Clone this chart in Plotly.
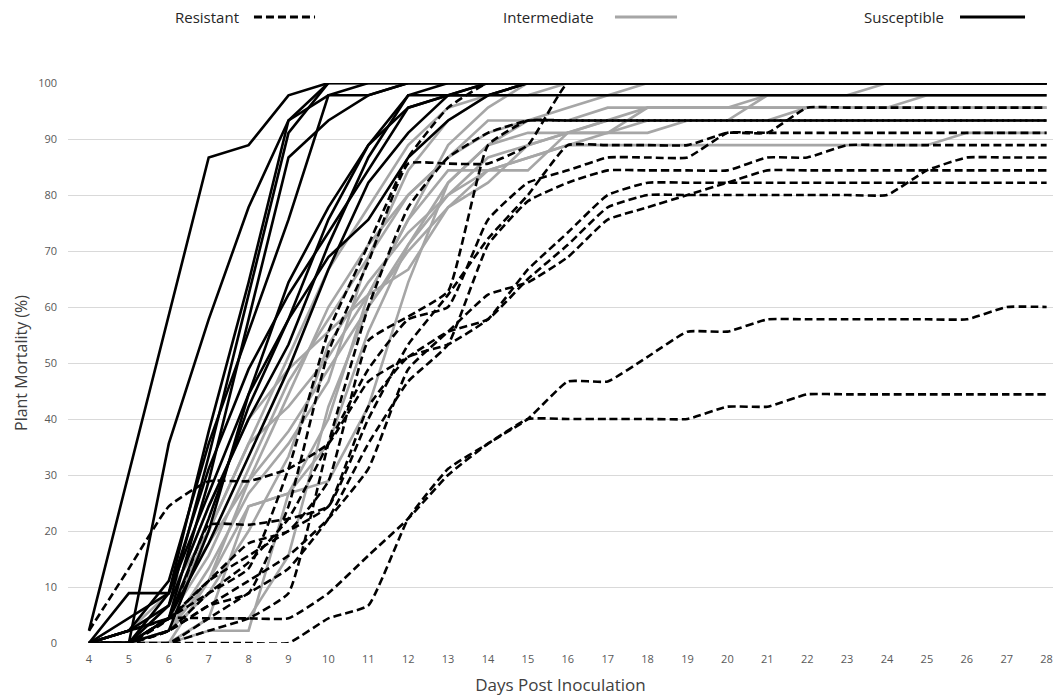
import plotly.graph_objects as go

days = list(range(4, 29))

# Susceptible (solid black)
S1 = [2.2, 30.4, 58.5, 86.7, 88.9, 97.8, 100, 100, 100, 100, 100, 100, 100, 100, 100, 100, 100, 100, 100, 100, 100, 100, 100, 100, 100]
S2 = [0, 0, 35.6, 57.8, 77.8, 93.3, 100, 100, 100, 100, 100, 100, 100, 100, 100, 100, 100, 100, 100, 100, 100, 100, 100, 100, 100]
S3 = [0, 8.9, 8.9, 37.8, 64.4, 93.3, 97.8, 97.8, 100, 100, 100, 100, 100, 100, 100, 100, 100, 100, 100, 100, 100, 100, 100, 100, 100]
S4 = [0, 2.2, 6.7, 33.3, 62.2, 91.1, 100, 100, 100, 100, 100, 100, 100, 100, 100, 100, 100, 100, 100, 100, 100, 100, 100, 100, 100]
S5 = [0, 0, 4.4, 28.9, 57.8, 86.7, 93.3, 97.8, 100, 100, 100, 100, 100, 100, 100, 100, 100, 100, 100, 100, 100, 100, 100, 100, 100]
S6 = [0, 0, 2.2, 20.0, 44.4, 64.4, 77.8, 88.9, 97.8, 100, 100, 100, 100, 100, 100, 100, 100, 100, 100, 100, 100, 100, 100, 100, 100]
S7 = [0, 4.4, 8.9, 26.7, 44.4, 57.8, 68.9, 75.6, 86.7, 93.3, 97.8, 100, 100, 100, 100, 100, 100, 100, 100, 100, 100, 100, 100, 100, 100]
S8 = [0, 0, 6.7, 24.4, 40.0, 53.3, 71.1, 86.7, 97.8, 97.8, 97.8, 97.8, 97.8, 97.8, 97.8, 97.8, 97.8, 97.8, 97.8, 97.8, 97.8, 97.8, 97.8, 97.8, 97.8]
S9 = [0, 2.2, 4.4, 22.2, 42.2, 57.8, 75.6, 88.9, 95.6, 97.8, 100, 100, 100, 100, 100, 100, 100, 100, 100, 100, 100, 100, 100, 100, 100]
S10 = [0, 0, 8.9, 31.1, 48.9, 62.2, 73.3, 84.4, 95.6, 97.8, 97.8, 100, 100, 100, 100, 100, 100, 100, 100, 100, 100, 100, 100, 100, 100]
S11 = [0, 2.2, 11.1, 35.6, 55.6, 75.6, 97.8, 100, 100, 100, 100, 100, 100, 100, 100, 100, 100, 100, 100, 100, 100, 100, 100, 100, 100]
S12 = [0, 0, 4.4, 17.8, 33.3, 48.9, 66.7, 82.2, 91.1, 97.8, 100, 100, 100, 100, 100, 100, 100, 100, 100, 100, 100, 100, 100, 100, 100]
susceptible = [S1, S2, S3, S4, S5, S6, S7, S8, S9, S10, S11, S12]

# Intermediate (solid grey)
I1 = [0, 0, 4.4, 15.6, 31.1, 46.7, 57.8, 68.9, 84.4, 93.3, 97.8, 100, 100, 100, 100, 100, 100, 100, 100, 100, 100, 100, 100, 100, 100]
I2 = [0, 2.2, 8.9, 20.0, 35.6, 51.1, 66.7, 77.8, 88.9, 95.6, 97.8, 97.8, 100, 100, 100, 100, 100, 100, 100, 100, 100, 100, 100, 100, 100]
I3 = [0, 0, 6.7, 17.8, 28.9, 44.4, 60.0, 71.1, 80.0, 86.7, 93.3, 93.3, 93.3, 93.3, 93.3, 93.3, 93.3, 97.8, 97.8, 97.8, 100, 100, 100, 100, 100]
I4 = [0, 0, 2.2, 11.1, 24.4, 26.7, 40.0, 62.2, 75.6, 84.4, 84.4, 84.4, 91.1, 91.1, 95.6, 95.6, 95.6, 95.6, 95.6, 95.6, 95.6, 97.8, 97.8, 97.8, 97.8]
I5 = [0, 0, 0, 4.4, 24.4, 26.7, 35.6, 55.6, 71.1, 80.0, 86.7, 88.9, 91.1, 93.3, 95.6, 95.6, 95.6, 95.6, 95.6, 95.6, 95.6, 95.6, 95.6, 95.6, 95.6]
I6 = [0, 0, 0, 2.2, 2.2, 26.7, 28.9, 42.2, 64.4, 82.2, 88.9, 91.1, 91.1, 93.3, 93.3, 93.3, 93.3, 93.3, 93.3, 93.3, 93.3, 93.3, 93.3, 93.3, 93.3]
I7 = [0, 0, 2.2, 8.9, 20.0, 33.3, 53.3, 64.4, 73.3, 80.0, 84.4, 86.7, 88.9, 88.9, 88.9, 88.9, 88.9, 88.9, 88.9, 88.9, 88.9, 88.9, 91.1, 91.1, 91.1]
I8 = [0, 0, 0, 4.4, 4.4, 15.6, 42.2, 60.0, 71.1, 82.2, 88.9, 93.3, 95.6, 97.8, 100, 100, 100, 100, 100, 100, 100, 100, 100, 100, 100]
I9 = [0, 0, 4.4, 20.0, 35.6, 42.2, 51.1, 62.2, 66.7, 77.8, 82.2, 88.9, 91.1, 91.1, 91.1, 93.3, 93.3, 93.3, 95.6, 95.6, 95.6, 95.6, 95.6, 95.6, 95.6]
I10 = [0, 0, 0, 11.1, 28.9, 37.8, 48.9, 60.0, 70.0, 77.8, 84.4, 86.7, 88.9, 91.1, 93.3, 93.3, 93.3, 93.3, 93.3, 93.3, 93.3, 93.3, 93.3, 93.3, 93.3]
I11 = [0, 2.2, 6.7, 24.4, 40.0, 48.9, 55.6, 62.2, 75.6, 88.9, 95.6, 100, 100, 100, 100, 100, 100, 100, 100, 100, 100, 100, 100, 100, 100]
I12 = [0, 0, 2.2, 13.3, 26.7, 35.6, 46.7, 68.9, 80.0, 86.7, 91.1, 93.3, 93.3, 95.6, 95.6, 95.6, 95.6, 97.8, 97.8, 97.8, 97.8, 97.8, 97.8, 97.8, 97.8]
intermediate = [I1, I2, I3, I4, I5, I6, I7, I8, I9, I10, I11, I12]

# Resistant (dashed black)
R1 = [0, 0, 0, 0, 0, 0, 4.4, 6.7, 22.2, 31.1, 35.6, 40.0, 40.0, 40.0, 40.0, 40.0, 42.2, 42.2, 44.4, 44.4, 44.4, 44.4, 44.4, 44.4, 44.4]
R2 = [0, 0, 4.4, 4.4, 4.4, 4.4, 8.9, 15.6, 22.2, 30.0, 35.6, 40.0, 46.7, 46.7, 51.1, 55.6, 55.6, 57.8, 57.8, 57.8, 57.8, 57.8, 57.8, 60.0, 60.0]
R3 = [2.2, 13.3, 24.4, 28.9, 28.9, 31.1, 35.6, 46.7, 51.1, 55.6, 57.8, 65.0, 71.1, 77.8, 80.0, 80.0, 80.0, 80.0, 80.0, 80.0, 80.0, 84.4, 86.7, 86.7, 86.7]
R4 = [0, 0, 4.4, 11.1, 15.6, 20.0, 24.4, 42.2, 51.1, 53.3, 57.8, 66.7, 73.3, 80.0, 82.2, 82.2, 82.2, 82.2, 82.2, 82.2, 82.2, 82.2, 82.2, 82.2, 82.2]
R5 = [0, 0, 2.2, 6.7, 11.1, 15.6, 22.2, 31.1, 48.9, 55.6, 62.2, 64.4, 68.9, 75.6, 77.8, 80.0, 82.2, 84.4, 84.4, 84.4, 84.4, 84.4, 84.4, 84.4, 84.4]
R6 = [0, 0, 0, 4.4, 8.9, 13.3, 22.2, 35.6, 46.7, 53.3, 71.1, 78.9, 82.2, 84.4, 84.4, 84.4, 84.4, 86.7, 86.7, 88.9, 88.9, 88.9, 88.9, 88.9, 88.9]
R7 = [0, 0, 2.2, 8.9, 14.4, 22.2, 35.6, 48.9, 57.8, 60.0, 75.6, 82.2, 84.4, 86.7, 86.7, 86.7, 91.1, 91.1, 91.1, 91.1, 91.1, 91.1, 91.1, 91.1, 91.1]
R8 = [0, 0, 4.4, 21.1, 21.1, 22.2, 24.4, 40.0, 53.3, 62.2, 72.2, 80.0, 88.9, 88.9, 88.9, 88.9, 91.1, 91.1, 95.6, 95.6, 95.6, 95.6, 95.6, 95.6, 95.6]
R9 = [0, 2.2, 4.4, 11.1, 17.8, 20.0, 28.9, 54.0, 58.3, 62.8, 88.9, 93.3, 93.3, 93.3, 93.3, 93.3, 93.3, 93.3, 93.3, 93.3, 93.3, 93.3, 93.3, 93.3, 93.3]
R10 = [0, 0, 2.2, 6.7, 8.9, 24.4, 52.0, 68.0, 85.6, 85.6, 85.6, 88.9, 100, 100, 100, 100, 100, 100, 100, 100, 100, 100, 100, 100, 100]
R11 = [0, 0, 4.4, 8.9, 13.3, 31.1, 55.6, 71.1, 86.7, 95.6, 100, 100, 100, 100, 100, 100, 100, 100, 100, 100, 100, 100, 100, 100, 100]
R12 = [0, 0, 0, 2.2, 4.4, 8.9, 35.6, 60.0, 77.8, 86.7, 91.1, 93.3, 93.3, 93.3, 93.3, 93.3, 93.3, 93.3, 93.3, 93.3, 93.3, 93.3, 93.3, 93.3, 93.3]
resistant = [R1, R2, R3, R4, R5, R6, R7, R8, R9, R10, R11, R12]

y_ticks = list(range(0, 101, 10))

GREY = "#a6a6a6"
BLACK = "#000000"

fig = go.Figure()
for ys in intermediate:
    fig.add_trace(go.Scatter(x=days, y=ys, mode="lines", showlegend=False,
                             line=dict(color=GREY, width=2.6)))
for ys in resistant:
    fig.add_trace(go.Scatter(x=days, y=ys, mode="lines", showlegend=False,
                             line=dict(color=BLACK, width=2.6, dash="8px,4px",
                                       shape="spline", smoothing=0.4)))
for ys in susceptible:
    fig.add_trace(go.Scatter(x=days, y=ys, mode="lines", showlegend=False,
                             line=dict(color=BLACK, width=2.6)))

# legend (text followed by line sample, as in the original)
LEG_Y = 1.118
legend_items = [("Resistant", 0.1756, 0.1888, 0.2508, "8px,4px", BLACK),
                ("Intermediate", 0.536, 0.5553, 0.6183, "solid", GREY),
                ("Susceptible", 0.8914, 0.9056, 0.9716, "solid", BLACK)]
for label, tx, x0, x1, dash, col in legend_items:
    fig.add_annotation(text=label, xref="paper", yref="paper", x=tx, y=LEG_Y,
                       xanchor="right", yanchor="middle", showarrow=False,
                       font=dict(family="Open Sans", size=15, color="#262626"))
    fig.add_shape(type="line", xref="paper", yref="paper", x0=x0, x1=x1,
                  y0=LEG_Y, y1=LEG_Y, line=dict(color=col, width=3, dash=dash))

fig.update_layout(
    width=1053, height=696,
    margin=dict(l=68, r=0, t=83, b=53),
    paper_bgcolor="white", plot_bgcolor="white",
    font=dict(family="Open Sans", color="#595959"),
    xaxis=dict(range=[3.474, 28.16], tickmode="array", tickvals=days,
               ticktext=[str(d) for d in days], showgrid=False, zeroline=False,
               showline=False, ticks="", ticklen=0, automargin=False,
               tickfont=dict(size=11, color="#595959"),
               ticklabelstandoff=8,
               title=dict(text="Days Post Inoculation", standoff=18,
                          font=dict(size=17, color="#404040"))),
    yaxis=dict(range=[0, 100], tickmode="array", tickvals=y_ticks,
               showgrid=True, gridcolor="#d9d9d9", gridwidth=1, zeroline=False,
               showline=False, ticks="", ticklen=0, automargin=False,
               tickfont=dict(size=11, color="#595959"),
               ticklabelstandoff=10,
               title=dict(text="Plant Mortality (%)", standoff=6,
                          font=dict(size=16, color="#404040"))),
)

fig.write_html(
    "out.html",
    config={"displayModeBar": False},
    post_script="document.body.style.margin='0';"
                "document.body.style.overflow='hidden';"
                "document.documentElement.style.overflow='hidden';",
)
